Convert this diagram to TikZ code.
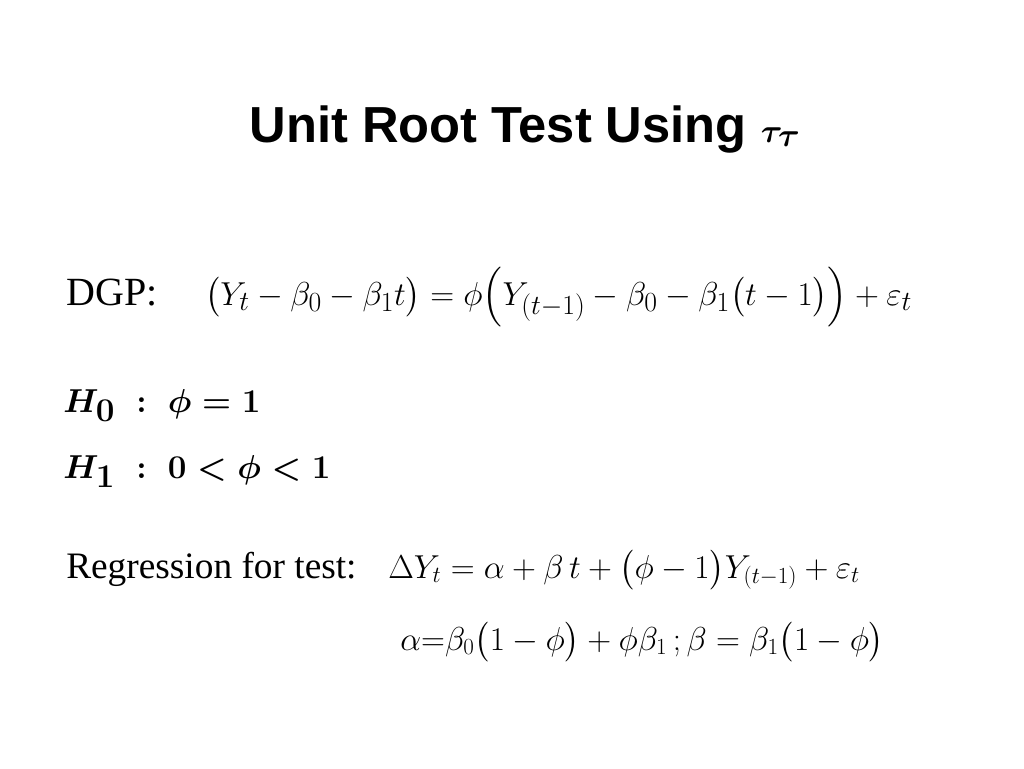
\documentclass[tikz,border=0pt]{standalone}
\usepackage{fontspec}
\usepackage{amsmath}
\setmainfont{Liberation Serif}
\newfontfamily\titlefont{Liberation Sans}
\tikzset{lbl/.style={anchor=base west,inner sep=0pt}}
\begin{document}
\begin{tikzpicture}[x=0.75pt,y=-0.75pt]
\useasboundingbox[fill=white] (0,0) rectangle (1024,768);
\node[inner sep=0pt,anchor=base] (title) at (525,142) {\titlefont\bfseries\fontsize{38}{42}\selectfont Unit Root Test Using $\boldsymbol{\tau_\tau}$};
\node[lbl] (dgp) at (66,305) {\fontsize{30}{34}\selectfont DGP:};
\node[lbl] (eq1) at (205,305) {\fontsize{31.5}{36}\selectfont $\bigl(Y_t-\beta_0-\beta_1 t\bigr)=\phi\Bigl(Y_{(t-1)}-\beta_0-\beta_1\bigl(t-1\bigr)\Bigr)+\varepsilon_t$};
\node[lbl] (h0) at (63,412) {\fontsize{48}{52}\selectfont $\boldsymbol{H_0\;:\;\phi=1}$};
\node[lbl] (h1) at (63,478) {\fontsize{48}{52}\selectfont $\boldsymbol{H_1\;:\;0<\phi<1}$};
\node[lbl] (reg) at (66,578) {\fontsize{28}{32}\selectfont Regression for test:};
\node[lbl] (eq2) at (388,578) {\fontsize{25.5}{30}\selectfont $\Delta Y_t=\alpha+\beta\,t+\bigl(\phi-1\bigr)Y_{(t-1)}+\varepsilon_t$};
\node[lbl] (eq3) at (400,650) {\fontsize{26.5}{30}\selectfont $\alpha{=}\beta_0\bigl(1-\phi\bigr)+\phi\beta_1\,;\beta=\beta_1\bigl(1-\phi\bigr)$};
\end{tikzpicture}
\end{document}
